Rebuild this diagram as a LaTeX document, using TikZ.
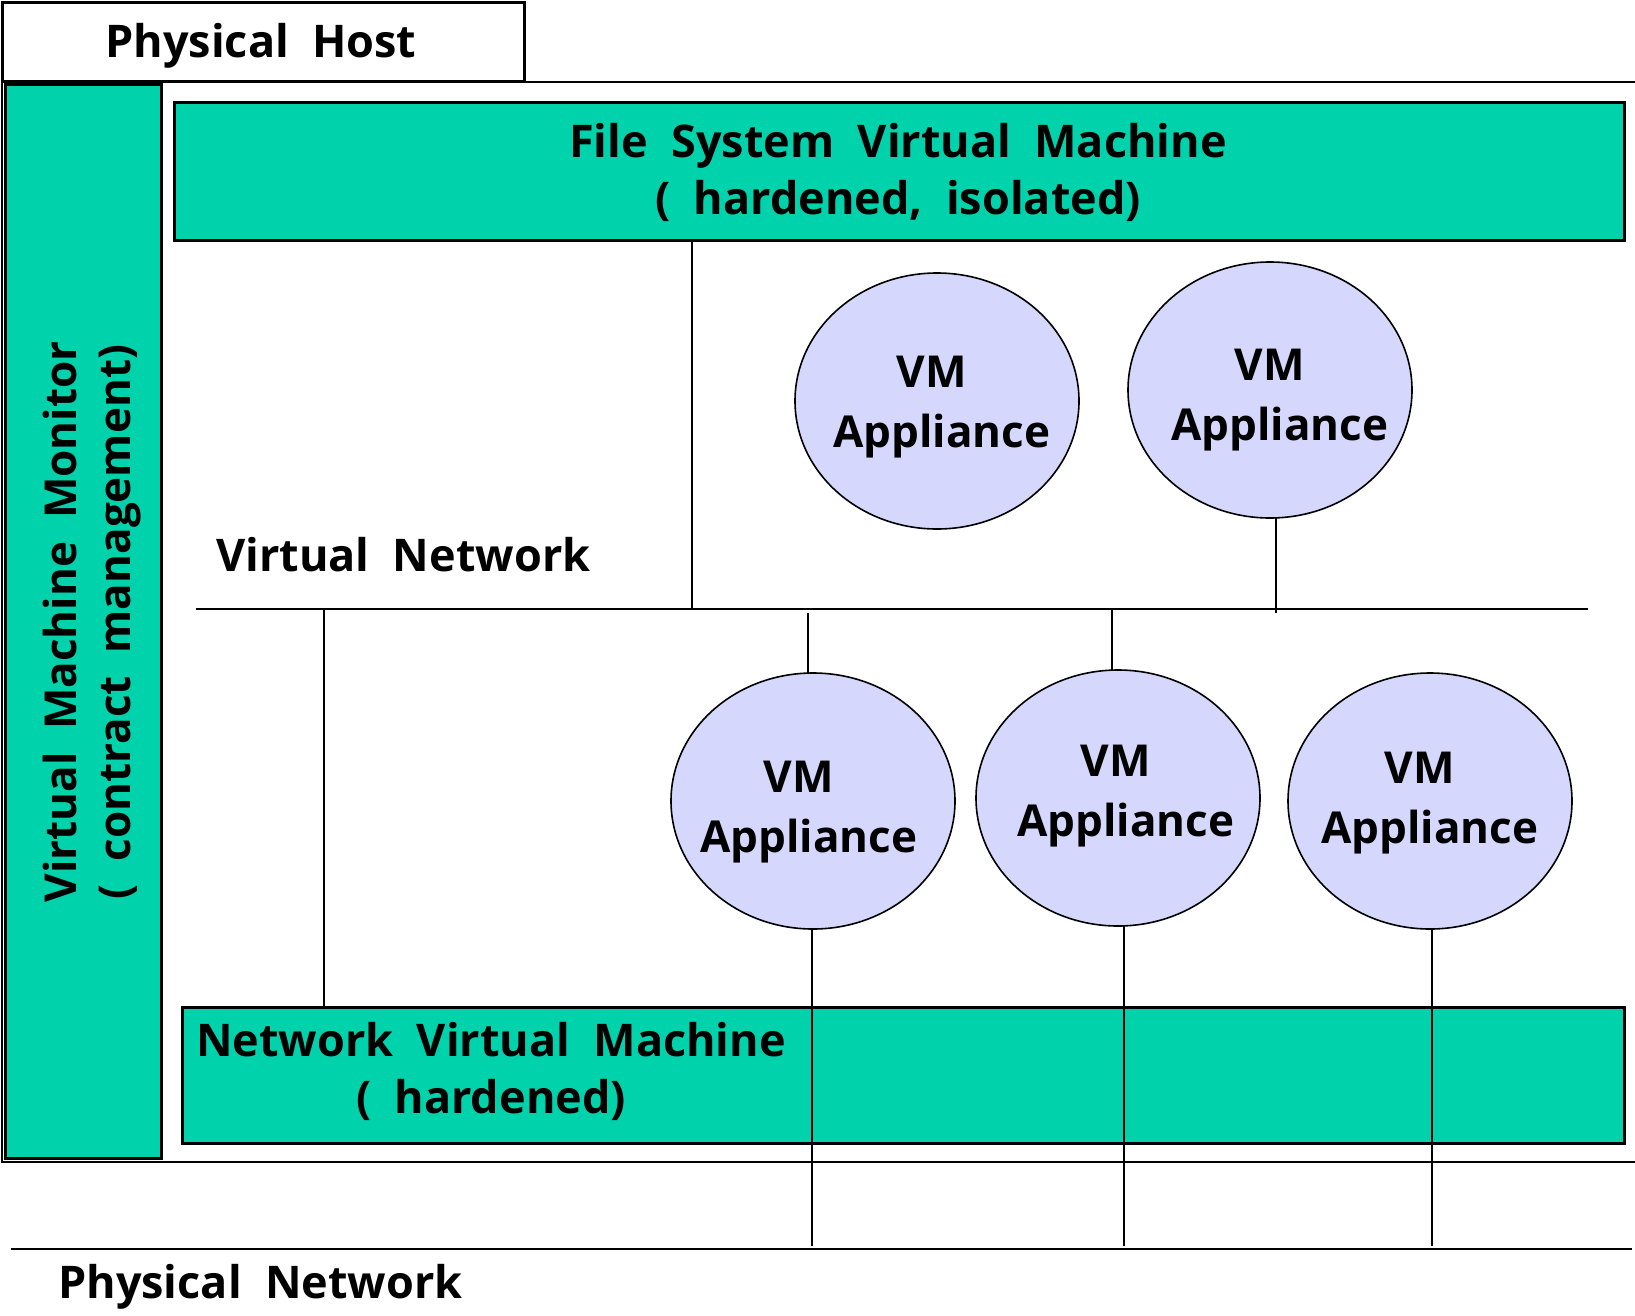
\documentclass[tikz,border=0pt]{standalone}
\usepackage{fontspec}
\setmainfont{Open Sans}
\usetikzlibrary{shapes.geometric}
\definecolor{vmteal}{RGB}{0,210,172}
\definecolor{applfill}{RGB}{213,215,252}
\tikzset{
  frame/.style={draw=black, line width=2.5},
  tealbox/.style={frame, fill=vmteal, inner sep=0, anchor=north west},
  wire/.style={draw=black, line width=2},
  bigtext/.style={font=\bfseries\fontsize{45}{57}\selectfont, align=center, inner sep=0},
  appliance/.style={ellipse, draw=black, line width=1.6, fill=applfill,
    minimum width=284, minimum height=256, inner sep=0},
  appltext/.style={font=\bfseries\fontsize{44}{60}\selectfont, align=center, inner sep=0},
}
\newcommand{\appltitle}{VM\hspace*{20pt}\\Appliance}
\begin{document}
\begin{tikzpicture}[x=1pt,y=-1pt]
\useasboundingbox (0,0) rectangle (1635,1315);

% host enclosure, open to the right
\draw[frame] (1635,82) -- (2,82) -- (2,1162) -- (1635,1162);

% host title tab
\node[frame, fill=white, anchor=north west, minimum width=522, minimum height=79, inner sep=0] (hosttab) at (1,1) {};
\node[bigtext] (hostlabel) at (261,46) {Physical\ \ Host};

% virtual machine monitor column
\node[tealbox, minimum width=156, minimum height=1074] (vmm) at (4,83) {};
\node[bigtext, rotate=90, font=\bfseries\fontsize{44}{54}\selectfont] (vmmlabel) at (92,622)
  {Virtual\ \ Machine\ \ Monitor\\(\ \ contract\ \ management)};

% file system VM
\node[tealbox, minimum width=1450, minimum height=138] (fsvm) at (173,101) {};
\node[bigtext] (fsvmlabel) at (898,172)
  {File\ \ System\ \ Virtual\ \ Machine\\(\ \ hardened,\ \ isolated)};

% network VM
\node[tealbox, minimum width=1442, minimum height=136] (nvm) at (181,1006) {};
\node[bigtext] (nvmlabel) at (491,1071)
  {Network\ \ Virtual\ \ Machine\\(\ \ hardened)};

% virtual network bus
\coordinate (vnL) at (196,609);
\coordinate (vnR) at (1588,609);
\draw[wire] (vnL) -- (vnR);
\node[bigtext, anchor=west] (vnlabel) at (216,555) {Virtual\ \ Network};

% physical network bus
\coordinate (pnL) at (11,1249);
\coordinate (pnR) at (1632,1249);
\draw[wire] (pnL) -- (pnR);
\node[bigtext, anchor=west] (pnlabel) at (58,1287) {Physical\ \ Network};

% links from the service VMs to the virtual network
\draw[wire] (fsvm.south -| 692,0) -- (vnL -| 692,0);
\draw[wire] (vnL -| 324,0) -- (nvm.north -| 324,0);

% appliance VMs and their links
\coordinate (e2tail) at (1276,613);
\coordinate (e3head) at (808,613);
\coordinate (e3foot) at (812,1246);
\coordinate (e4foot) at (1124,1246);
\coordinate (e5foot) at (1432,1246);

\draw[wire] (1276,518) -- (e2tail);
\draw[wire] (e3head) -- (808,673);
\draw[wire] (vnL -| 1112,0) -- (1112,670);
\draw[wire] (812,929) -- (e3foot);
\draw[wire] (1124,926) -- (e4foot);
\draw[wire] (1432,929) -- (e5foot);

\node[appliance] (app1) at (937,401) {};
\node[appliance] (app2) at (1270,390) {};
\node[appliance] (app3) at (813,801) {};
\node[appliance] (app4) at (1118,798) {};
\node[appliance] (app5) at (1430,801) {};

\node[appltext] (app1text) at (942,407) {\appltitle};
\node[appltext] (app2text) at (1280,400) {\appltitle};
\node[appltext] (app3text) at (809,812) {\appltitle};
\node[appltext] (app4text) at (1126,796) {\appltitle};
\node[appltext] (app5text) at (1430,803) {\appltitle};
\end{tikzpicture}
\end{document}
